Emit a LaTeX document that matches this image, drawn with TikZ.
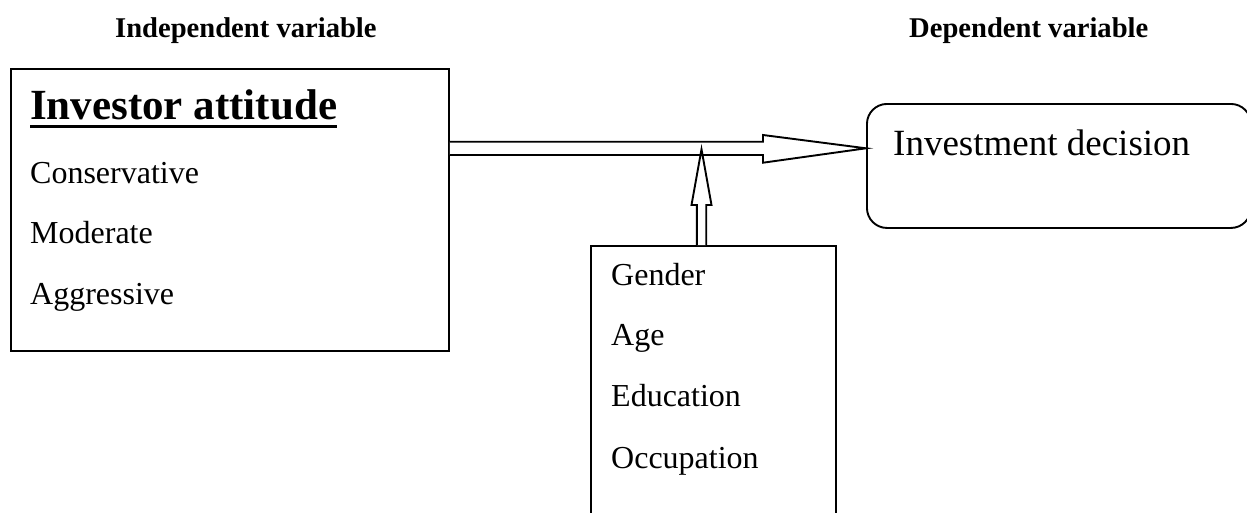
\documentclass[tikz,border=0pt]{standalone}
\usepackage{fontspec}
\setmainfont{Liberation Serif}
\usetikzlibrary{calc}
\tikzset{
  box/.style={draw, line width=1.9pt, anchor=north west, inner sep=0pt, fill=white},
  lbl/.style={anchor=base west, inner sep=0pt},
  head/.style={lbl, font=\fontsize{28.6}{30}\selectfont\bfseries},
  item/.style={lbl, font=\fontsize{32}{34}\selectfont},
  blockarrow/.style={draw, line width=1.9pt, fill=white, line join=miter},
}
\begin{document}
\begin{tikzpicture}[x=1pt, y=-1pt]
\useasboundingbox (0,0) rectangle (1247,512);
% headers
\node[head] (hind) at (115,37.7) {Independent variable};
\node[head] (hdep) at (909,37.7) {Dependent variable};
% boxes
\node[box, minimum width=438pt, minimum height=282pt] (ia) at (10,68) {};
\node[box, minimum width=384pt, minimum height=124pt, rounded corners=20pt] (id) at (866,103) {};
\node[box, minimum width=245pt, minimum height=290pt] (dm) at (590,245) {};
% left box text
\node[lbl, font=\fontsize{43}{45}\selectfont\bfseries] (title) at (30,119) {Investor attitude};
\draw[line width=3pt] ($(title.base west)+(0,7)$) -- ($(title.base east)+(0,7)$);
\node[item] (c1) at (30,183) {Conservative};
\node[item] (c2) at (30,243) {Moderate};
\node[item] (c3) at (30,304) {Aggressive};
% right box text
\node[lbl, font=\fontsize{37}{39}\selectfont] (idt) at (893,155) {Investment decision};
% bottom box text
\node[item] (d1) at (611,285) {Gender};
\node[item] (d2) at (611,345) {Age};
\node[item] (d3) at (611,406.5) {Education};
\node[item] (d4) at (611,468) {Occupation};
% horizontal block arrow
\coordinate (hs) at (ia.east |- 0,148.3);
\coordinate (ht) at (id.west |- 0,148.3);
\draw[blockarrow] ($(hs)+(0,-6.6)$) -- ($(ht)+(-103,-6.6)$) -- ($(ht)+(-103,-13.3)$) -- (ht)
  -- ($(ht)+(-103,14.4)$) -- ($(ht)+(-103,6.7)$) -- ($(hs)+(0,6.7)$);
% vertical block arrow
\coordinate (vs) at (dm.north -| 701.5,0);
\coordinate (vt) at (701.5,149.3);
\draw[blockarrow] ($(vs)+(-4.7,0)$) -- ($(vt)+(-4.7,55.7)$) -- ($(vt)+(-10,55.7)$) -- (vt)
  -- ($(vt)+(10,55.7)$) -- ($(vt)+(4.7,55.7)$) -- ($(vs)+(4.7,0)$);
\end{tikzpicture}
\end{document}
